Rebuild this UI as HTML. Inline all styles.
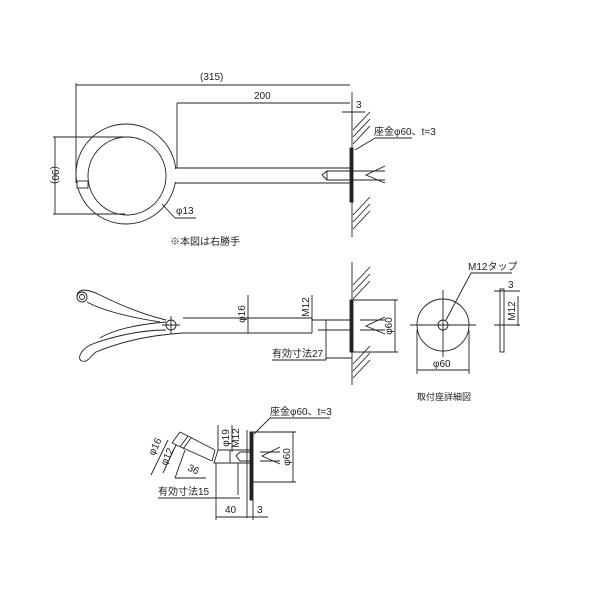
<!DOCTYPE html>
<html><head><meta charset="utf-8"><style>
body{margin:0;background:#fff}
svg{display:block}
text{font-family:"Liberation Sans","Noto Sans CJK JP",sans-serif;font-size:10px;fill:#222}
</style></head><body>
<svg width="600" height="600" viewBox="0 0 600 600" xmlns="http://www.w3.org/2000/svg">
<g stroke="#222" stroke-width="0.9" fill="none">
<!-- TOP VIEW -->
<line x1="76" y1="85" x2="350" y2="85"/>
<line x1="76" y1="83" x2="76" y2="183"/>
<line x1="177" y1="103" x2="350" y2="103"/>
<line x1="177" y1="103" x2="177" y2="168"/>
<line x1="352" y1="92" x2="352" y2="237"/>
<rect x="350" y="148" width="3" height="54" fill="#222"/>
<line x1="342" y1="112" x2="365" y2="112"/>
<g>
<line x1="353" y1="130" x2="370" y2="112"/><line x1="353" y1="137" x2="370" y2="119"/><line x1="353" y1="144" x2="370" y2="126"/>
<line x1="353" y1="215" x2="370" y2="197"/><line x1="353" y1="222" x2="370" y2="204"/><line x1="353" y1="229" x2="370" y2="211"/>
</g>
<circle cx="126" cy="174" r="50"/>
<circle cx="127" cy="176" r="39"/>
<rect x="172" y="169" width="8" height="13" fill="#fff" stroke="none"/>
<path d="M175 168 L350 168 M175 183 L350 183"/>
<rect x="77" y="181" width="11" height="7" fill="#fff"/>
<line x1="55" y1="137" x2="55" y2="214"/>
<line x1="53" y1="137" x2="125" y2="137"/>
<line x1="53" y1="214" x2="125" y2="214"/>
<line x1="162" y1="204" x2="175" y2="218"/><line x1="175" y1="218" x2="196" y2="218"/>
<path d="M322 175 L327 171 L385 171 M322 175 L327 180 L385 180 M327 171 L327 180"/>
<path d="M385 166 L366 175 L385 183"/>
<line x1="355" y1="150" x2="375" y2="138"/><line x1="375" y1="138" x2="412" y2="138"/>
<!-- MIDDLE VIEW -->
<line x1="352" y1="262" x2="352" y2="385"/>
<line x1="353" y1="285" x2="370" y2="267"/><line x1="353" y1="292" x2="370" y2="274"/><line x1="353" y1="299" x2="370" y2="281"/>
<line x1="353" y1="364" x2="370" y2="346"/><line x1="353" y1="371" x2="370" y2="353"/><line x1="353" y1="378" x2="370" y2="360"/>
<rect x="350" y="300" width="3" height="52" fill="#222"/>
<line x1="353" y1="300" x2="398" y2="300"/><line x1="353" y1="352" x2="398" y2="352"/>
<line x1="395" y1="300" x2="395" y2="352"/>
<path d="M183 318 L312 318 M183 333 L312 333 M312 318 L312 333"/>
<path d="M312 320 L350 320 M318 330 L350 330"/>
<path d="M385 317 L366 326 L385 334"/>
<path d="M360 320 L385 320 M360 330 L385 330"/>
<line x1="248" y1="295" x2="248" y2="333"/>
<line x1="312" y1="295" x2="312" y2="320"/>
<line x1="326" y1="320" x2="326" y2="360"/>
<line x1="326" y1="358" x2="352" y2="358"/>
<line x1="272" y1="360" x2="326" y2="360"/>
<circle cx="82" cy="297" r="5"/><circle cx="82" cy="297" r="2.5"/>
<path d="M77 298 C76 287 88 289 100 295 C120 305 145 315 166 320"/>
<path d="M87 302 C105 312 135 318 160 322"/>
<path d="M166 330 C140 330 110 337 90 345 C78 352 78 360 82 361 C88 363 90 356 96 352 C120 342 150 335 183 333"/>
<path d="M166 322 C130 325 110 332 100 338"/>
<circle cx="171" cy="325" r="5"/>
<line x1="162" y1="325" x2="180" y2="325"/><line x1="171" y1="316" x2="171" y2="334"/>
<!-- DETAIL -->
<circle cx="443" cy="325" r="26"/><circle cx="443" cy="325" r="5"/>
<line x1="410" y1="325" x2="476" y2="325"/><line x1="443" y1="290" x2="443" y2="357"/>
<path d="M446 320 L471 273 L512 273"/>
<line x1="417" y1="330" x2="417" y2="374"/><line x1="469" y1="330" x2="469" y2="374"/>
<line x1="417" y1="370" x2="469" y2="370"/>
<rect x="500" y="289" width="4" height="63"/>
<line x1="494" y1="291" x2="520" y2="291"/>
<line x1="518" y1="296" x2="518" y2="326"/>
<line x1="494" y1="325" x2="520" y2="325"/>
<!-- BOTTOM VIEW -->
<line x1="247" y1="430" x2="247" y2="518"/>
<rect x="250" y="432" width="3" height="68" fill="#222"/>
<line x1="253" y1="432" x2="296" y2="432"/><line x1="253" y1="482" x2="296" y2="482"/>
<line x1="293" y1="432" x2="293" y2="482"/>
<path d="M218 450 L250 450 M218 463 L250 463 M230 450 L230 463"/>
<path d="M236 456 L240 452 L252 452 M236 456 L240 461 L252 461"/>
<path d="M280 447 L262 456 L280 464 M260 452 L280 452 M260 461 L280 461"/>
<path d="M218 450 L214 463 L218 463"/>
<path d="M215 450 L180 432 M212 461 L172 443 M215 450 L212 461"/>
<path d="M180 432 L172 443 M188 436 L180 447 M191 438 L183 449"/>
<line x1="168" y1="440" x2="151" y2="475"/>
<line x1="176" y1="445" x2="163" y2="473"/>
<line x1="185" y1="450" x2="175" y2="478"/>
<line x1="175" y1="478" x2="206" y2="478"/>
<line x1="218" y1="425" x2="218" y2="450"/>
<line x1="232" y1="425" x2="232" y2="452"/>
<line x1="238" y1="463" x2="238" y2="495"/>
<line x1="158" y1="498" x2="240" y2="498"/>
<line x1="216" y1="463" x2="216" y2="520"/>
<line x1="216" y1="517" x2="248" y2="517"/>
<line x1="253" y1="500" x2="253" y2="520"/>
<line x1="248" y1="517" x2="268" y2="517"/>
<path d="M254 434 L270 418 L330 418"/>
</g>
<g>
<text x="200" y="80">(315)</text>
<text x="254" y="99">200</text>
<text x="356" y="108">3</text>
<text x="374" y="135">座金φ60、t=3</text>
<text x="176" y="214">φ13</text>
<text x="170" y="245">※本図は右勝手</text>
<text transform="translate(52,175) rotate(90)" text-anchor="middle">(90)</text>
<text transform="translate(245,314) rotate(-90)" text-anchor="middle">φ16</text>
<text transform="translate(309,307) rotate(-90)" text-anchor="middle">M12</text>
<text transform="translate(392,326) rotate(-90)" text-anchor="middle">φ60</text>
<text x="272" y="357">有効寸法27</text>
<text x="468" y="270">M12タップ</text>
<text x="433" y="367">φ60</text>
<text x="508" y="288">3</text>
<text transform="translate(515,311) rotate(-90)" text-anchor="middle">M12</text>
<text x="417" y="400" style="font-size:9px">取付座詳細図</text>
<text x="270" y="415">座金φ60、t=3</text>
<text transform="translate(290,457) rotate(-90)" text-anchor="middle">φ60</text>
<text transform="translate(229,438) rotate(-90)" text-anchor="middle">φ19</text>
<text transform="translate(239,438) rotate(-90)" text-anchor="middle">M12</text>
<text transform="translate(158,448) rotate(-65)" text-anchor="middle">φ16</text>
<text transform="translate(170,458) rotate(-65)" text-anchor="middle">φ12</text>
<text transform="translate(187,470) rotate(25)">36</text>
<text x="158" y="495">有効寸法15</text>
<text x="225" y="513">40</text>
<text x="257" y="513">3</text>
</g>
</svg>
</body></html>
